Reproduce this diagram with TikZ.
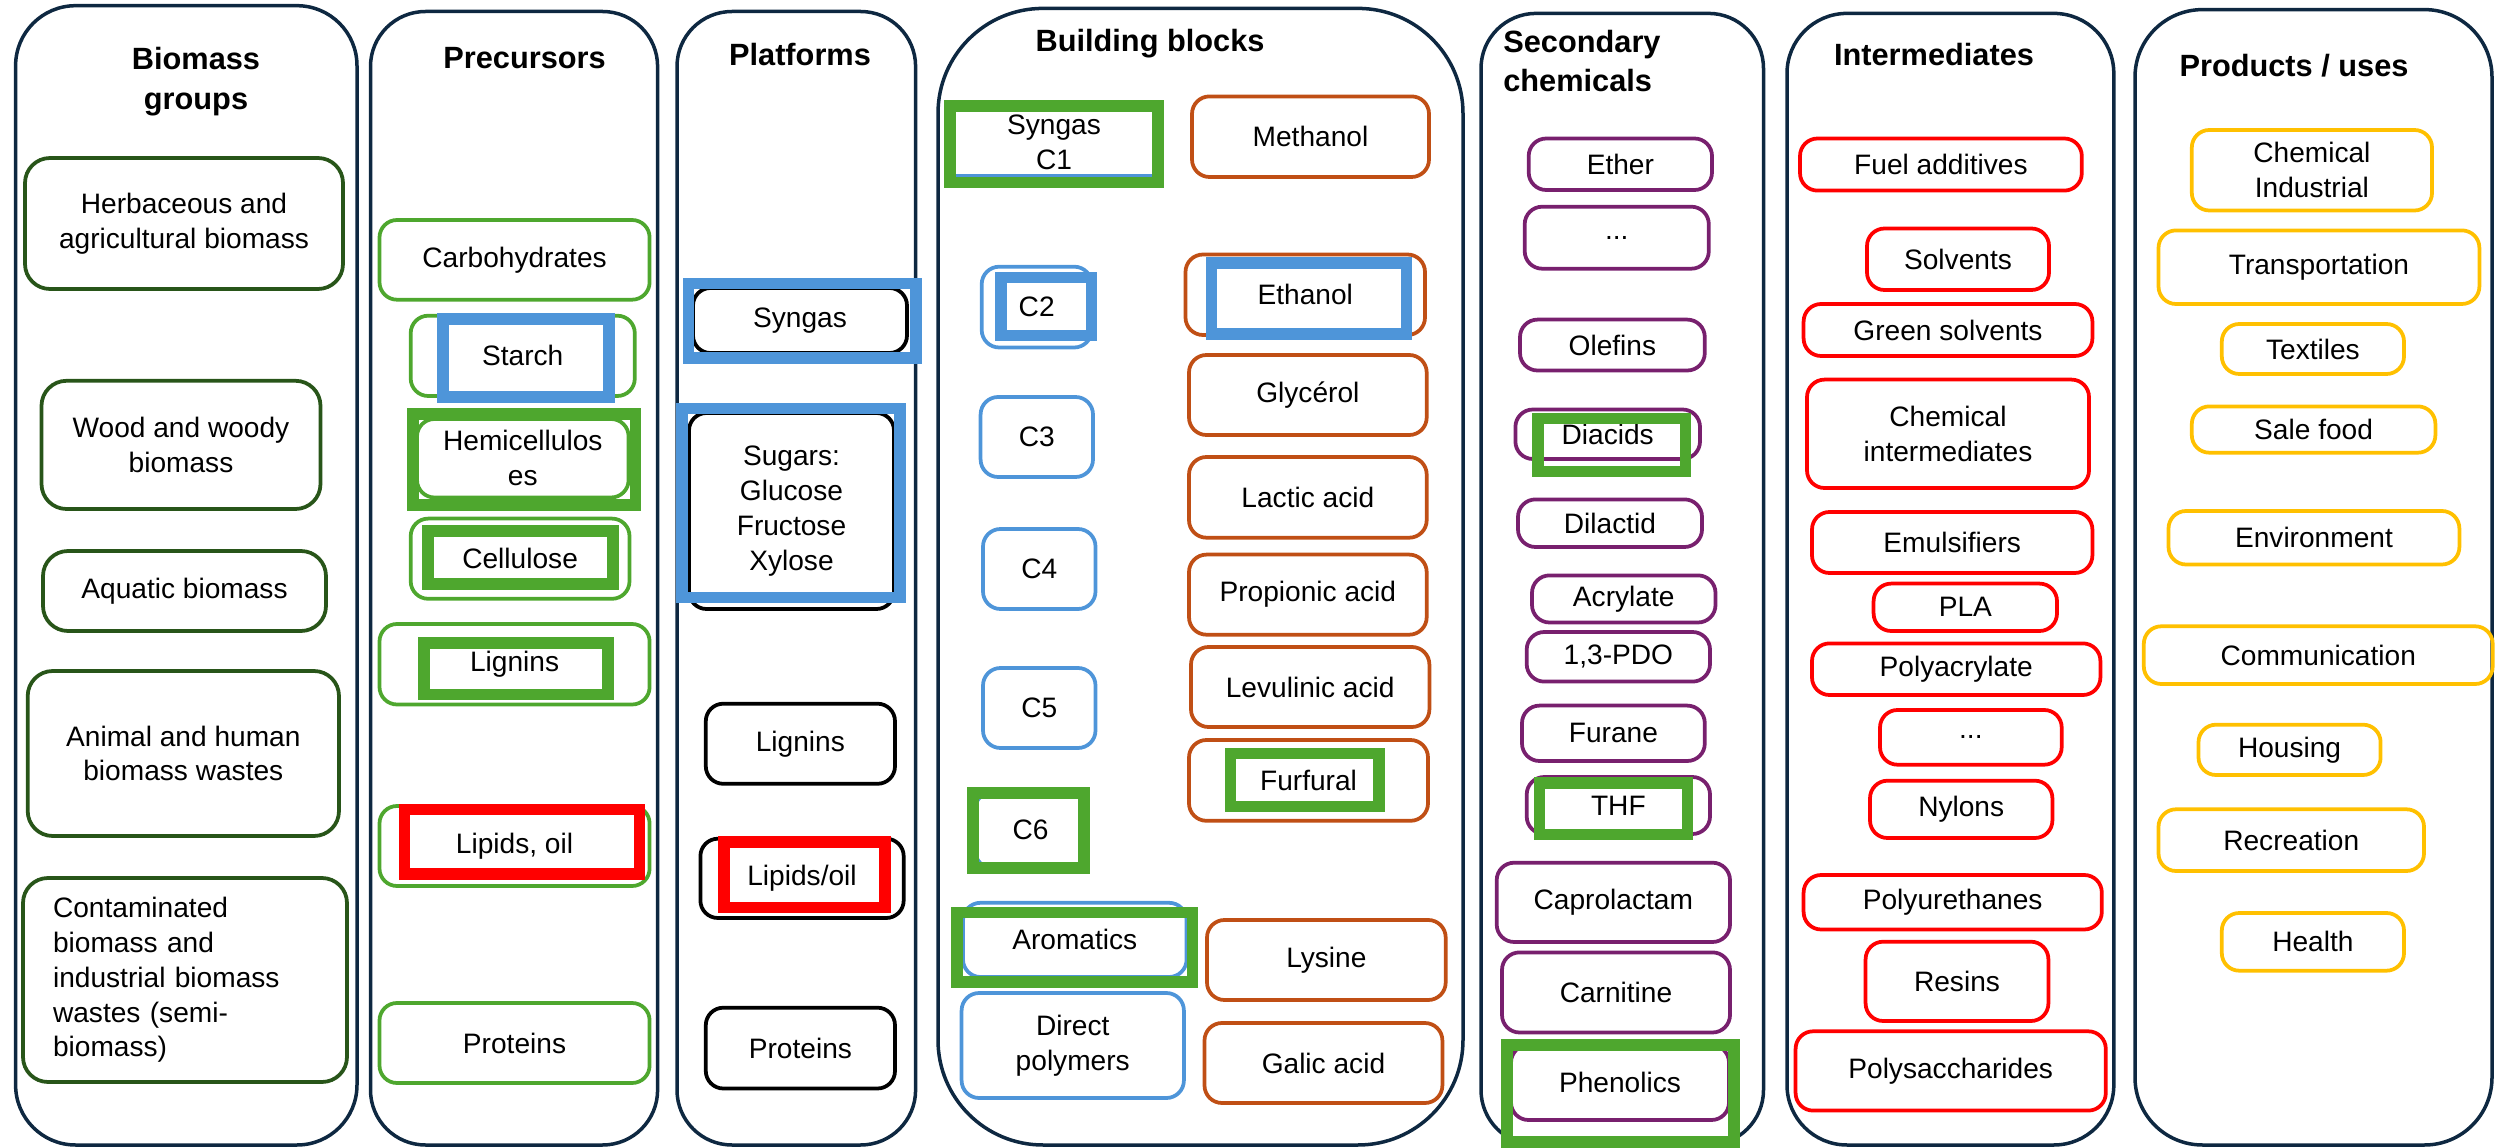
\documentclass[tikz,border=0pt]{standalone}
\usepackage{fontspec}
\setmainfont{Liberation Sans}

\definecolor{navy}{RGB}{14,40,65}
\definecolor{biogreen}{RGB}{40,85,25}
\definecolor{pregreen}{RGB}{78,167,46}
\definecolor{cblue}{RGB}{78,149,217}
\definecolor{aorange}{RGB}{192,79,21}
\definecolor{spurple}{RGB}{120,32,110}
\definecolor{ired}{RGB}{255,0,0}
\definecolor{uyellow}{RGB}{255,192,0}

\tikzset{
  lane/.style={draw=navy, line width=0.07cm, rounded corners=1.2cm},
  lanehead/.style={font=\fontsize{17.5}{22.7}\selectfont\bfseries, align=center, inner sep=0pt},
  chip/.style={draw, line width=0.075cm, rounded corners=0.35cm, align=center, inner sep=0pt,
    font=\fontsize{16}{19.8}\selectfont},
  biobox/.style={chip, draw=biogreen, rounded corners=0.5cm},
  prebox/.style={chip, draw=pregreen},
  platbox/.style={chip, draw=black},
  carbbox/.style={chip, draw=cblue},
  acidbox/.style={chip, draw=aorange},
  secbox/.style={chip, draw=spurple},
  intbox/.style={chip, draw=ired},
  usebox/.style={chip, draw=uyellow},
  hlgreen/.style={draw=pregreen, line width=0.23cm},
  hlblue/.style={draw=cblue, line width=0.23cm},
  hlred/.style={draw=ired, line width=0.23cm}
}

% box from its corners (x1,y1) (x2,y2), in pixels of the picture
\newcommand{\mkbox}[7]{\node[#1, minimum width={(#5-#3)*0.02cm}, minimum height={(#6-#4)*0.02cm}] (#2) at ({(#3+#5)/2},{(#4+#6)/2}) {#7};}

\begin{document}
\begin{tikzpicture}[x=0.02cm, y=-0.02cm]
\useasboundingbox (0,0) rectangle (2496,1148);

% the seven lanes
\mkbox{lane}{colBio}{15.6}{5.7}{357}{1145}{}
\mkbox{lane, rounded corners=1.1cm}{colPre}{370.5}{11.5}{657.6}{1145}{}
\mkbox{lane, rounded corners=1.1cm}{colPlat}{677}{11.5}{915.6}{1145}{}
\mkbox{lane, rounded corners=2.1cm}{colBB}{938}{8.4}{1463}{1145}{}
\mkbox{lane, rounded corners=1.1cm}{colSec}{1481}{13.4}{1763.5}{1145}{}
\mkbox{lane}{colInt}{1787}{13.4}{2113.8}{1145}{}
\mkbox{lane, rounded corners=1.35cm}{colProd}{2135}{9.6}{2492}{1145}{}

\node[lanehead] (hBio) at (196,82) {Biomass\\groups};
\node[lanehead] (hPre) at (524.6,58) {Precursors};
\node[lanehead] (hPlat) at (800,55) {Platforms};
\node[lanehead] (hBB) at (1150,44) {Building blocks};
\node[lanehead, align=left, anchor=west] (hSec) at (1503,61) {Secondary\\chemicals};
\node[lanehead] (hInt) at (1934,55) {Intermediates};
\node[lanehead] (hProd) at (2294,66) {Products / uses};

% biomass groups
\mkbox{biobox}{herb}{25}{158}{343}{289}{Herbaceous and\\agricultural biomass}
\mkbox{biobox}{wood}{41.5}{380.8}{320.5}{509}{Wood and woody\\biomass}
\mkbox{biobox}{aqua}{43}{551}{326}{631}{Aquatic biomass}
\mkbox{biobox}{anim}{27.7}{671}{339}{836}{Animal and human\\biomass wastes}
\mkbox{biobox, align=left, text width=5.28cm, inner xsep=0.6cm}{cont}{23}{878}{347}{1082}{Contaminated\\biomass and\\industrial biomass\\wastes (semi-\\biomass)}

% precursors
\mkbox{prebox}{carb}{379.5}{220}{649.6}{299.7}{Carbohydrates}
\mkbox{prebox}{starch}{410.7}{315.7}{634.8}{396}{Starch}
\mkbox{prebox}{hemi}{417}{419}{628.6}{497.5}{Hemicellulos\\es}
\mkbox{prebox}{cell}{410.7}{518.6}{629.5}{598.8}{Cellulose}
\mkbox{prebox}{lign}{379.5}{624}{649.6}{704.5}{Lignins}
\mkbox{prebox}{lipid}{379.5}{806}{649.6}{886}{Lipids, oil}
\mkbox{prebox}{prot}{379.5}{1003}{649.6}{1083}{Proteins}

% platforms
\mkbox{platbox}{psyn}{693}{288}{907}{353}{Syngas}
\mkbox{platbox}{psug}{689}{413}{894}{609}{Sugars:\\Glucose\\Fructose\\Xylose}
\mkbox{platbox}{plign}{705.8}{703.7}{895}{783.8}{Lignins}
\mkbox{platbox}{plip}{700.4}{838.7}{903.7}{918}{Lipids/oil}
\mkbox{platbox}{pprot}{705.8}{1007.7}{895}{1088.5}{Proteins}

% building blocks
\mkbox{carbbox, rounded corners=0.05cm}{cone}{952}{108}{1156}{176}{Syngas\\C1}
\mkbox{carbbox}{ctwo}{981.7}{266.7}{1091.7}{347.5}{C2}
\mkbox{carbbox}{cthree}{980.6}{397}{1093}{477}{C3}
\mkbox{carbbox}{cfour}{983}{529}{1095.5}{609}{C4}
\mkbox{carbbox}{cfive}{983}{668}{1095.5}{748}{C5}
\mkbox{carbbox}{csix}{975}{792}{1086}{868}{C6}
\mkbox{carbbox}{arom}{963}{902.8}{1186.6}{977}{Aromatics}
\mkbox{carbbox}{dpol}{961.6}{993}{1183.9}{1098}{Direct\\polymers}

\mkbox{acidbox}{meth}{1192}{96.4}{1429}{177}{Methanol}
\mkbox{acidbox}{eth}{1185.5}{254.5}{1425}{335}{Ethanol}
\mkbox{acidbox}{glyc}{1189}{355}{1426.7}{435}{Glycérol}
\mkbox{acidbox}{lact}{1189}{457}{1426.7}{537.7}{Lactic acid}
\mkbox{acidbox}{prop}{1189}{554.6}{1426.7}{634.7}{Propionic acid}
\mkbox{acidbox}{levu}{1191}{647}{1429.4}{727}{Levulinic acid}
\mkbox{acidbox}{furf}{1189}{740}{1428}{820.8}{Furfural}
\mkbox{acidbox}{lys}{1207}{920}{1445.7}{1000}{Lysine}
\mkbox{acidbox}{galic}{1204.5}{1023}{1442.4}{1103}{Galic acid}

% secondary chemicals
\mkbox{secbox}{ether}{1528.7}{138.5}{1712}{190}{Ether}
\mkbox{secbox}{sdots}{1524.7}{206.7}{1708.8}{268.7}{...}
\mkbox{secbox}{olef}{1520}{319.6}{1704.8}{370.5}{Olefins}
\mkbox{secbox}{diac}{1515.4}{409.5}{1700}{459}{Diacids}
\mkbox{secbox}{dilac}{1518}{499.4}{1702}{547}{Dilactid}
\mkbox{secbox}{acryl}{1532}{575.4}{1715.5}{622.5}{Acrylate}
\mkbox{secbox}{pdo}{1526.7}{632}{1710}{681.6}{1,3-PDO}
\mkbox{secbox}{furan}{1522}{705.6}{1704.8}{761}{Furane}
\mkbox{secbox}{thf}{1526.7}{777}{1710}{834}{THF}
\mkbox{secbox}{capro}{1496.7}{862.7}{1730}{942}{Caprolactam}
\mkbox{secbox}{carn}{1502}{952.4}{1730}{1032.5}{Carnitine}
\mkbox{secbox}{phen}{1511}{1045}{1729}{1120}{Phenolics}

% intermediates
\mkbox{intbox}{fuel}{1800}{138.5}{2081.8}{190.6}{Fuel additives}
\mkbox{intbox}{solv}{1867}{228.5}{2049}{290}{Solvents}
\mkbox{intbox}{gsolv}{1803.6}{304}{2092.4}{356}{Green solvents}
\mkbox{intbox}{chint}{1807}{379.6}{2089}{488}{Chemical\\intermediates}
\mkbox{intbox}{emul}{1812}{512}{2092.4}{573}{Emulsifiers}
\mkbox{intbox}{pla}{1873.6}{583.6}{2057}{631}{PLA}
\mkbox{intbox}{pacr}{1812}{643.4}{2100.4}{695}{Polyacrylate}
\mkbox{intbox}{idots}{1880}{710}{2061.7}{764.7}{...}
\mkbox{intbox}{nyl}{1870}{780.7}{2052.4}{838}{Nylons}
\mkbox{intbox}{pur}{1803.6}{875}{2101.8}{929.5}{Polyurethanes}
\mkbox{intbox}{resin}{1865.6}{941.7}{2048.4}{1021}{Resins}
\mkbox{intbox}{psac}{1795.6}{1031.3}{2105.8}{1110.6}{Polysaccharides}

% products / uses
\mkbox{usebox}{chemind}{2191.8}{130}{2432}{210.5}{Chemical\\Industrial}
\mkbox{usebox}{transp}{2158.5}{230.4}{2479.4}{304}{Transportation}
\mkbox{usebox}{textiles}{2221.8}{324}{2404}{374}{Textiles}
\mkbox{usebox}{food}{2191.8}{406.4}{2435.4}{452.7}{Sale food}
\mkbox{usebox}{envi}{2168.5}{511}{2459.4}{564.5}{Environment}
\mkbox{usebox}{comm}{2143.8}{626.3}{2492.7}{684}{Communication}
\mkbox{usebox}{hous}{2198.5}{724.7}{2380.6}{775}{Housing}
\mkbox{usebox}{recr}{2158.5}{809.3}{2424}{871}{Recreation}
\mkbox{usebox}{health}{2221.8}{913}{2404}{970.7}{Health}

% highlight frames
\draw[hlblue] (443,319) rectangle (609,397);
\draw[hlgreen] (413,414) rectangle (635.5,505);
\draw[hlgreen] (428,531) rectangle (613,584);
\draw[hlgreen] (424,643) rectangle (608,694.6);
\draw[hlred] (404.7,809.6) rectangle (639.5,874);
\draw[hlblue] (688.5,283.5) rectangle (916,358);
\draw[hlblue] (682,408.6) rectangle (900,597.4);
\draw[hlred] (724,842) rectangle (885,907.5);
\draw[hlgreen] (950,106) rectangle (1158,182.7);
\draw[hlblue] (1001,277.7) rectangle (1091.7,335.4);
\draw[hlblue] (1211.5,263) rectangle (1406.6,334);
\draw[hlgreen] (1230.5,753.6) rectangle (1379,806.4);
\draw[hlgreen] (973,793) rectangle (1084,868);
\draw[hlgreen] (957,912.6) rectangle (1192.5,981.8);
\draw[hlgreen] (1538,418.6) rectangle (1685.5,471.6);
\draw[hlgreen] (1539.4,783) rectangle (1687.5,834.6);
\draw[hlgreen] (1507,1045) rectangle (1734,1142);
\end{tikzpicture}
\end{document}
